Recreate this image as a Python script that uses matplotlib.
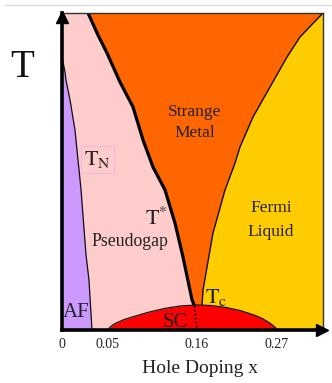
import numpy as np
import matplotlib
matplotlib.use("Agg")
import matplotlib.pyplot as plt
from matplotlib.lines import Line2D

plt.rcParams['font.family'] = ['Liberation Serif', 'DejaVu Serif']
plt.rcParams['mathtext.fontset'] = 'stix'

# ---------------- data (doping x, temperature T in arbitrary units) ----------------
af_x = [0.0, 0.0011, 0.0033, 0.0043, 0.0087, 0.0141, 0.0207, 0.0261, 0.0293, 0.0326]
af_T = [0.861, 0.845, 0.814, 0.789, 0.726, 0.631, 0.442, 0.237, 0.158, 0.0]

tstar_x = [0.0283, 0.0391, 0.0489, 0.0648, 0.0809, 0.0933, 0.1056, 0.1205, 0.1328, 0.1427, 0.1539, 0.1565, 0.1565]
tstar_T = [1.0, 0.9306, 0.8738, 0.7823, 0.7035, 0.5994, 0.5142, 0.4416, 0.3375, 0.2303, 0.0946, 0.078, 0.0]

fl_x = [0.3333, 0.3016, 0.2838, 0.2604, 0.2370, 0.2191, 0.2123, 0.1985, 0.1820, 0.1738, 0.1683, 0.1669, 0.1669]
fl_T = [1.0, 0.9243, 0.8612, 0.7666, 0.6719, 0.5773, 0.5268, 0.4416, 0.3060, 0.1987, 0.1262, 0.078, 0.0]

dome_x = [0.05, 0.052, 0.056, 0.06, 0.07, 0.08, 0.10, 0.12, 0.14, 0.16, 0.18, 0.20, 0.22, 0.24, 0.25, 0.26, 0.264, 0.268, 0.27]
dome_T = [0.0, 0.008, 0.016, 0.022, 0.033, 0.041, 0.056, 0.068, 0.076, 0.079, 0.077, 0.071, 0.061, 0.046, 0.036, 0.022, 0.015, 0.007, 0.0]

sc_line_x = [0.157, 0.160]
sc_line_T = [0.076, 0.0]

tick_vals = [0.0, 0.05, 0.16, 0.27]
tick_labels = ['0', '0.05', '0.16', '0.27']
x_max = 0.3333

# ---------------- schematic (piecewise-linear) doping axis ----------------
_d_bp = np.array([-1.0, 0.0, 0.05, 0.16, 0.27, 2.0])
_p_bp = np.array([-920.0, 0.0, 46.0, 135.0, 215.0, 215.0 + 1.73 / 0.001375])

def fwd(x):
    return np.interp(x, _d_bp, _p_bp)

def inv(p):
    return np.interp(p, _p_bp, _d_bp)

# ---------------- figure ----------------
W, H = 332, 383
fig = plt.figure(figsize=(W / 100, H / 100), dpi=100)
ax = fig.add_axes([62 / W, 53 / H, 261 / W, 317 / H])
ax.set_xscale('function', functions=(fwd, inv))
ax.set_xlim(0, x_max)
ax.set_ylim(0, 1)

purple = '#CC99FF'
pink = '#FFCCCC'
orange = '#FF6600'
yellow = '#FFCC00'
red = '#FF0000'

ax.set_facecolor(yellow)
ax.fill_betweenx(fl_T, 0, fl_x, color=orange, lw=0, zorder=1)
ax.fill_betweenx(tstar_T, 0, tstar_x, color=pink, lw=0, zorder=1.1)
ax.fill_betweenx(af_T, 0, af_x, color=purple, lw=0, zorder=1.2)

ax.plot(af_x, af_T, color='#111111', lw=0.9, zorder=2)
ax.plot(tstar_x[:-1], tstar_T[:-1], color='black', lw=2.3, zorder=2, solid_capstyle='butt')
ax.plot(fl_x[:-1], fl_T[:-1], color='#111111', lw=1.0, zorder=2)

ax.fill_between(dome_x, 0, dome_T, color=red, lw=0, zorder=3)
ax.plot(dome_x, dome_T, color='#111111', lw=0.9, zorder=3.2)
ax.plot(sc_line_x, sc_line_T, color='black', lw=1.3, ls=(0, (1, 1.2)), zorder=3.3)

# spines
for s in ['left', 'bottom']:
    ax.spines[s].set_linewidth(2.6)
    ax.spines[s].set_color('black')
    ax.spines[s].set_zorder(5)
for s in ['top', 'right']:
    ax.spines[s].set_linewidth(1.0)
    ax.spines[s].set_color('#333333')
    ax.spines[s].set_zorder(5)

# axis arrows
ax.plot([0], [0.987], marker='^', ms=8.8, color='black', transform=ax.transAxes, clip_on=False, zorder=6)
ax.plot([0.998], [0], marker='>', ms=8.8, color='black', transform=ax.transAxes, clip_on=False, zorder=6)

ax.set_yticks([])
ax.set_xticks(tick_vals)
ax.set_xticklabels(tick_labels)
ax.tick_params(axis='x', length=0, pad=5.5, labelsize=10, colors='#222222')
ax.xaxis.set_minor_locator(matplotlib.ticker.NullLocator())

# labels
fig.text(200 / W, 1 - 373 / H, 'Hole Doping x', ha='center', va='baseline', fontsize=14, color='#222222')
ax.text(-0.153, 0.798, 'T', transform=ax.transAxes, ha='center', va='baseline', fontsize=28, color='#111111')

txt = dict(color='#222222', zorder=7)
ax.text(0.1575, 0.675, 'Strange', ha='center', va='baseline', fontsize=12.5, **txt)
ax.text(0.1575, 0.609, 'Metal', ha='center', va='baseline', fontsize=12.5, **txt)
ax.text(0.2618, 0.372, 'Fermi', ha='center', va='baseline', fontsize=12.5, **txt)
ax.text(0.2618, 0.2965, 'Liquid', ha='center', va='baseline', fontsize=12.5, **txt)
ax.text(0.0772, 0.265, 'Pseudogap', ha='center', va='baseline', fontsize=12.8, **txt)
ax.text(0.0239, 0.5205, r'$\mathrm{T}_{\mathrm{N}}$', ha='left', va='baseline', fontsize=16,
        bbox=dict(boxstyle='square,pad=0.15', fc='none', ec='#f0b0e8', lw=0.6), **txt)
ax.text(0.0957, 0.331, r'$\mathrm{T}^{*}$', ha='left', va='baseline', fontsize=16, **txt)
ax.text(0.171, 0.085, r'$\mathrm{T}_{\mathrm{c}}$', ha='left', va='baseline', fontsize=16, **txt)
ax.text(0.0011, 0.041, 'AF', ha='left', va='baseline', fontsize=15, **txt)
ax.text(0.118, 0.0095, 'SC', ha='left', va='baseline', fontsize=15, **txt)

# thin grey rule at the top of the image
fig.add_artist(Line2D([5 / W, 1.0], [1 - 5 / H, 1 - 5 / H], color='#dcdcdc', lw=1.0))

fig.savefig('out.png', dpi=100)
